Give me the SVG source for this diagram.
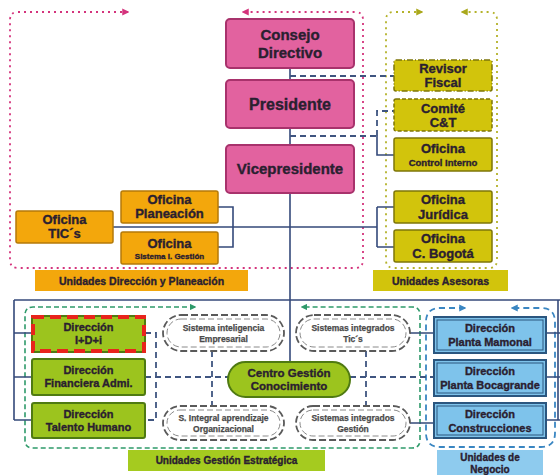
<svg xmlns="http://www.w3.org/2000/svg" width="560" height="475" viewBox="0 0 560 475">
<style>
text{font-family:"Liberation Sans",Arial,sans-serif;font-weight:bold;text-anchor:middle;fill:#2a2030;stroke:#2a2030;stroke-width:0.35}
.pink{fill:#e2629f;stroke:#a8326c;stroke-width:2}
.yel{fill:#d2c40c;stroke:#7d7508;stroke-width:1.5}
.org{fill:#f3a70c;stroke:#b57a08;stroke-width:1.5}
.grn{fill:#9cc41e;stroke:#4f7a12;stroke-width:2}
.blu{fill:#7ec3eb;stroke:#2b567f;stroke-width:2}
.bin{fill:none;stroke:#2b567f;stroke-width:1}
.oval{fill:#fff;stroke:#5a5a5a;stroke-width:1.8;stroke-dasharray:7,3}
.ovin{fill:none;stroke:#8a8a8a;stroke-width:1;stroke-dasharray:6,3}
.ot{font-size:8.5px;fill:#4a4a4a;stroke:#4a4a4a;stroke-width:0.25}
.ln{fill:none;stroke:#34497a;stroke-width:1.6}
.dl{fill:none;stroke:#3f5580;stroke-width:1.8;stroke-dasharray:6,4}
</style>
<defs>
<marker id="ap" viewBox="0 0 10 10" refX="8" refY="5" markerWidth="4" markerHeight="4" orient="auto-start-reverse"><path d="M0,0 L10,5 L0,10z" fill="#d4337c"/></marker>
<marker id="ay" viewBox="0 0 10 10" refX="8" refY="5" markerWidth="4" markerHeight="4" orient="auto-start-reverse"><path d="M0,0 L10,5 L0,10z" fill="#aaa81c"/></marker>
<marker id="ag" viewBox="0 0 10 10" refX="8" refY="5" markerWidth="4" markerHeight="4" orient="auto-start-reverse"><path d="M0,0 L10,5 L0,10z" fill="#2e9a6a"/></marker>
<marker id="ab" viewBox="0 0 10 10" refX="8" refY="5" markerWidth="4" markerHeight="4" orient="auto-start-reverse"><path d="M0,0 L10,5 L0,10z" fill="#3a86c2"/></marker>
</defs>
<rect width="560" height="475" fill="#fff"/>

<g id="regions">
<path d="M128,12 H18 Q10,12 10,20 V260 Q10,268 18,268 H355 Q363,268 363,260 V20 Q363,12 355,12 H243" fill="none" stroke="#d4337c" stroke-width="1.8" stroke-dasharray="2,4" marker-start="url(#ap)" marker-end="url(#ap)"/>
<path d="M422,12 H394 Q386,12 386,20 V260 Q386,268 394,268 H489 Q497,268 497,260 V20 Q497,12 489,12 H462" fill="none" stroke="#b4b22a" stroke-width="1.8" stroke-dasharray="2,4" marker-start="url(#ay)" marker-end="url(#ay)"/>
<path d="M195,307 H33 Q25,307 25,315 V440 Q25,448 33,448 H412 Q420,448 420,440 V315 Q420,307 412,307 H302" fill="none" stroke="#2e9a6a" stroke-width="1.6" stroke-dasharray="5,3" marker-start="url(#ag)" marker-end="url(#ag)"/>
<path d="M465,308 H440 Q426,308 426,322 V433 Q426,447 440,447 H541 Q555,447 555,433 V322 Q555,308 541,308 H512" fill="none" stroke="#3a86c2" stroke-width="1.8" stroke-dasharray="6,4" marker-start="url(#ab)" marker-end="url(#ab)"/>
</g>

<g id="connectors">
<path class="ln" d="M290,68 V362"/>
<path class="ln" d="M14,300 H560"/>
<path class="ln" d="M14,300 V420 M14,333 H32 M14,377 H32 M14,420 H32"/>
<path class="ln" d="M558,300 V420 M546,333 H560 M546,377 H560 M546,420 H560"/>
<path class="ln" d="M113,227 H377 M377,207 V247 M377,207 H394 M377,247 H394"/>
<path class="ln" d="M218,207 H233 V247 H218"/>
<path class="dl" d="M290,76 H394"/>
<path class="dl" d="M290,136 H377"/>
<path class="dl" d="M377,136 V111 H394"/>
<path class="ln" d="M377,136 V155 H394"/>
<path class="dl" d="M145,333 H156 V420 H145"/>
<path class="dl" d="M145,377 H228"/>
<path class="dl" d="M350,377 H434"/>
<path class="dl" d="M212,351 V406"/>
<path class="dl" d="M366,351 V406"/>
<path class="ln" d="M410,333 H434 M410,423 H434"/>
</g>

<g id="consejo"><rect class="pink" x="226" y="19" width="128" height="49" rx="4"/><text x="290" y="40" font-size="15">Consejo</text><text x="290" y="58" font-size="15">Directivo</text></g>
<g id="presidente"><rect class="pink" x="226" y="80" width="128" height="48" rx="4"/><text x="290" y="110" font-size="16">Presidente</text></g>
<g id="vicepresidente"><rect class="pink" x="226" y="145" width="128" height="48" rx="4"/><text x="290" y="174" font-size="15">Vicepresidente</text></g>

<g id="revisor"><rect class="yel" x="394" y="60" width="98" height="31" rx="2" stroke-dasharray="6,2,1,2"/><text x="443" y="73" font-size="13">Revisor</text><text x="443" y="87" font-size="13">Fiscal</text></g>
<g id="comite"><rect class="yel" x="394" y="99" width="98" height="32" rx="2" stroke-dasharray="4,2"/><text x="443" y="113" font-size="13">Comité</text><text x="443" y="127" font-size="13">C&amp;T</text></g>
<g id="control"><rect class="yel" x="394" y="138" width="98" height="33" rx="2"/><text x="443" y="153" font-size="13">Oficina</text><text x="443" y="166" font-size="9.5">Control Interno</text></g>
<g id="juridica"><rect class="yel" x="394" y="191" width="98" height="32" rx="2"/><text x="443" y="204" font-size="13">Oficina</text><text x="443" y="219" font-size="13">Jurídica</text></g>
<g id="bogota"><rect class="yel" x="394" y="230" width="98" height="32" rx="2"/><text x="443" y="243" font-size="13">Oficina</text><text x="443" y="258" font-size="13">C. Bogotá</text></g>
<g id="asesoras-label"><rect x="373" y="270" width="135" height="21" fill="#d2c40c"/><text x="440.5" y="285" font-size="10.5">Unidades Asesoras</text></g>

<g id="planeacion"><rect class="org" x="121" y="191" width="97" height="32" rx="2"/><text x="169.5" y="204" font-size="13">Oficina</text><text x="169.5" y="218" font-size="13">Planeación</text></g>
<g id="sig"><rect class="org" x="121" y="232" width="97" height="32" rx="2"/><text x="169.5" y="248" font-size="13">Oficina</text><text x="169.5" y="259" font-size="8">Sistema I. Gestión</text></g>
<g id="tics"><rect class="org" x="16" y="211" width="97" height="32" rx="2"/><text x="64.5" y="224" font-size="13">Oficina</text><text x="64.5" y="238" font-size="13">TIC´s</text></g>
<g id="direccion-label"><rect x="35" y="270" width="213" height="21" fill="#f3a70c"/><text x="141.5" y="285" font-size="10.5">Unidades Dirección y Planeación</text></g>

<g id="idi"><rect class="grn" x="32" y="316" width="113" height="36" rx="2"/><rect x="33" y="317" width="111" height="34" fill="none" stroke="#e8241c" stroke-width="4" stroke-dasharray="11,6"/><text x="88.5" y="331" font-size="11">Dirección</text><text x="88.5" y="344" font-size="11">I+D+i</text></g>
<g id="financiera"><rect class="grn" x="32" y="359" width="113" height="36" rx="2"/><text x="88.5" y="374" font-size="11">Dirección</text><text x="88.5" y="387" font-size="11">Financiera Admi.</text></g>
<g id="talento"><rect class="grn" x="32" y="403" width="113" height="35" rx="2"/><text x="88.5" y="418" font-size="11">Dirección</text><text x="88.5" y="431" font-size="11">Talento Humano</text></g>

<g id="sie"><rect class="oval" x="163" y="315" width="121" height="36" rx="18"/><rect class="ovin" x="167" y="319" width="113" height="28" rx="14"/><text class="ot" x="223.5" y="331">Sistema inteligencia</text><text class="ot" x="223.5" y="342">Empresarial</text></g>
<g id="sitics"><rect class="oval" x="296" y="315" width="114" height="36" rx="18"/><rect class="ovin" x="300" y="319" width="106" height="28" rx="14"/><text class="ot" x="353" y="331">Sistemas integrados</text><text class="ot" x="353" y="342">Tic´s</text></g>
<g id="siao"><rect class="oval" x="163" y="406" width="121" height="34" rx="17"/><rect class="ovin" x="167" y="410" width="113" height="26" rx="13"/><text class="ot" x="223.5" y="421">S. Integral aprendizaje</text><text class="ot" x="223.5" y="432">Organizacional</text></g>
<g id="sigestion"><rect class="oval" x="296" y="406" width="114" height="34" rx="17"/><rect class="ovin" x="300" y="410" width="106" height="26" rx="13"/><text class="ot" x="353" y="421">Sistemas integrados</text><text class="ot" x="353" y="432">Gestión</text></g>
<g id="centro"><rect x="228" y="362" width="122" height="35" rx="17.5" fill="#9cc41e" stroke="#4f7a12" stroke-width="2"/><text x="289" y="377" font-size="11.5">Centro Gestión</text><text x="289" y="390" font-size="11.5">Conocimiento</text></g>
<g id="gestion-label"><rect x="128" y="450" width="197" height="21" fill="#a5cb1f"/><text x="226.5" y="464" font-size="10">Unidades Gestión Estratégica</text></g>

<g id="mamonal"><rect class="blu" x="434" y="317" width="112" height="36"/><rect class="bin" x="437" y="320" width="106" height="30"/><text x="490" y="332" font-size="11">Dirección</text><text x="490" y="346" font-size="11">Planta Mamonal</text></g>
<g id="bocagrande"><rect class="blu" x="434" y="360" width="112" height="36"/><rect class="bin" x="437" y="363" width="106" height="30"/><text x="490" y="375" font-size="11">Dirección</text><text x="490" y="389" font-size="11">Planta Bocagrande</text></g>
<g id="construcciones"><rect class="blu" x="434" y="403" width="112" height="35"/><rect class="bin" x="437" y="406" width="106" height="29"/><text x="490" y="418" font-size="11">Dirección</text><text x="490" y="432" font-size="11">Construcciones</text></g>
<g id="negocio-label"><rect x="437" y="450" width="106" height="25" fill="#8ecbee"/><text x="490" y="461" font-size="10">Unidades de</text><text x="490" y="473" font-size="10">Negocio</text></g>
</svg>
